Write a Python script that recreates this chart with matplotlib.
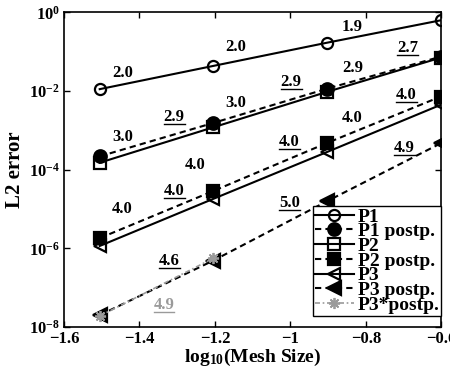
import numpy as np
import matplotlib
matplotlib.use("Agg")
import matplotlib.pyplot as plt
from matplotlib.lines import Line2D

plt.rcParams["font.family"] = ["Liberation Serif", "DejaVu Serif"]
plt.rcParams["font.weight"] = "bold"
plt.rcParams["axes.labelweight"] = "bold"
plt.rcParams["mathtext.fontset"] = "custom"
plt.rcParams["mathtext.rm"] = "Liberation Serif:bold"
plt.rcParams["mathtext.bf"] = "Liberation Serif:bold"
plt.rcParams["mathtext.it"] = "Liberation Serif:bold"
plt.rcParams["mathtext.default"] = "bf"

# ---- data -------------------------------------------------------------
mesh_size = np.array([1 / 32, 1 / 16, 1 / 8, 1 / 4])
log_h = np.log10(mesh_size)

err_p1 = [1.12e-2, 4.37e-2, 1.70e-1, 6.31e-1]
err_p1_post = [2.19e-4, 1.55e-3, 1.15e-2, 7.50e-2]
err_p2 = [1.51e-4, 1.20e-3, 9.55e-3, 7.08e-2]
err_p2_post = [1.82e-6, 2.88e-5, 4.79e-4, 7.24e-3]
err_p3 = [1.15e-6, 1.82e-5, 2.82e-4, 4.47e-3]
err_p3_post = [2.00e-8, 4.90e-7, 1.58e-5, 4.68e-4]
err_p3s_post = [1.90e-8, 5.60e-7]

rates_p1 = ["2.0", "2.0", "1.9"]
rates_p1_post = ["2.9", "2.9", "2.7"]
rates_p2 = ["3.0", "3.0", "2.9"]
rates_p2_post = ["4.0", "4.0", "4.0"]
rates_p3 = ["4.0", "4.0", "4.0"]
rates_p3_post = ["4.6", "5.0", "4.9"]
rates_p3s_post = ["4.9"]

x_ticks = [-1.6, -1.4, -1.2, -1.0, -0.8, -0.6]
x_tick_labels = ["\u22121.6", "\u22121.4", "\u22121.2", "\u22121", "\u22120.8", "\u22120.6"]
y_ticks = [1e-8, 1e-6, 1e-4, 1e-2, 1e0]
y_tick_labels = [r"$10^{-8}$", r"$10^{-6}$", r"$10^{-4}$", r"$10^{-2}$", r"$10^{0}$"]

# ---- figure -----------------------------------------------------------
fig = plt.figure(figsize=(4.5, 3.74), dpi=100)
ax = fig.add_axes([0.142, 0.1257, 0.839, 0.841])

lw = 1.5
dash = (0, (3, 2))
dashdot = (0, (3, 1.6, 1, 1.6))
gray = "#9a9a9a"

series = [
    (err_p1, "P1", dict(ls="-", marker="o", mfc="none", ms=8)),
    (err_p1_post, "P1 postp.", dict(ls=dash, marker="o", mfc="black", ms=9)),
    (err_p2, "P2", dict(ls="-", marker="s", mfc="none", ms=8)),
    (err_p2_post, "P2 postp.", dict(ls=dash, marker="s", mfc="black", ms=9)),
    (err_p3, "P3", dict(ls="-", marker="<", mfc="none", ms=9)),
    (err_p3_post, "P3 postp.", dict(ls=dash, marker="<", mfc="black", ms=10)),
]
for err, name, st in series:
    ax.plot(log_h[: len(err)], err, color="black", lw=lw, mec="black",
            mew=1.6, label=name, **st)

ax.plot(log_h[: len(err_p3s_post)], err_p3s_post, color=gray, ls=dashdot,
        lw=1.2, marker=(8, 2, 0), ms=8, mec=gray, mew=1.3, label="P3*postp.")

ax.set_yscale("log")
ax.set_xlim(-1.6, -0.6)
ax.set_ylim(1e-8, 1e0)
ax.set_xticks(x_ticks)
ax.set_xticklabels(x_tick_labels, fontweight="bold")
ax.set_yticks(y_ticks)
ax.set_yticklabels(y_tick_labels, fontweight="bold")
ax.minorticks_off()
ax.tick_params(direction="in", top=True, right=True, length=4, width=1,
               labelsize=12, pad=3)
for s in ax.spines.values():
    s.set_linewidth(1.2)

ax.set_xlabel(r"log$_{10}$(Mesh Size)", fontsize=14, fontweight="bold",
              labelpad=0)
ax.set_ylabel("L2 error", fontsize=15, fontweight="bold", labelpad=3)

# ---- convergence rate annotations ------------------------------------
# (rates, positions in (x, log10 y), underline, colour)
annot = [
    (rates_p1, [(-1.443, -1.54), (-1.146, -0.88), (-0.836, -0.37)], False, "black"),
    (rates_p1_post, [(-1.308, -2.66), (-0.998, -1.77), (-0.689, -0.90)], True, "black"),
    (rates_p2, [(-1.443, -3.17), (-1.146, -2.30), (-0.836, -1.42)], False, "black"),
    (rates_p2_post, [(-1.308, -4.55), (-1.003, -3.30), (-0.693, -2.10)], True, "black"),
    (rates_p3, [(-1.446, -5.00), (-1.253, -3.88), (-0.836, -2.69)], False, "black"),
    (rates_p3_post, [(-1.321, -6.32), (-1.003, -4.85), (-0.698, -3.45)], True, "black"),
    (rates_p3s_post, [(-1.335, -7.44)], True, gray),
]
underlined = []
for rates, pos, under, col in annot:
    for r, (xp, ly) in zip(rates, pos):
        t = ax.text(xp, 10 ** ly, r, fontsize=12, fontweight="bold", color=col,
                    ha="center", va="center", zorder=5)
        if under:
            underlined.append((t, col))

leg = ax.legend(loc="lower right", bbox_to_anchor=(1.0, 0.036),
                prop=dict(size=14, weight="bold"),
                frameon=True, fancybox=False, framealpha=1, edgecolor="black",
                borderpad=0.1, labelspacing=-0.15, handlelength=2.0,
                handletextpad=0.2, borderaxespad=0.0, markerscale=1.0)
leg.get_frame().set_linewidth(1.0)
leg.set_zorder(10)

fig.canvas.draw()
renderer = fig.canvas.get_renderer()
inv = fig.transFigure.inverted()
for t, col in underlined:
    bb = t.get_window_extent(renderer)
    (x0, y0), (x1, _) = inv.transform([[bb.x0, bb.y0 + 1.0], [bb.x1, bb.y1]])
    fig.add_artist(Line2D([x0, x1], [y0, y0], transform=fig.transFigure,
                          color=col, lw=1.0))

fig.savefig("out.png", dpi=100)
